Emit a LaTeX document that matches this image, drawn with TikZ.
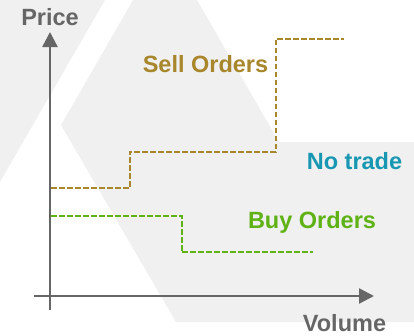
\documentclass[tikz,border=0pt]{standalone}
\usepackage{fontspec}
\setmainfont{Liberation Sans}
\usetikzlibrary{arrows.meta}
\definecolor{bggray}{HTML}{F0F0F0}
\definecolor{axisgray}{HTML}{666666}
\definecolor{sellgold}{HTML}{A8862B}
\definecolor{notrade}{HTML}{1797B1}
\definecolor{buygreen}{HTML}{5EB214}
\tikzset{
  lbl/.style={anchor=base, inner sep=0pt, font=\fontsize{23.5bp}{28bp}\selectfont\bfseries},
  axisline/.style={draw=axisgray, line width=2.4bp, -{Triangle[length=15bp,width=15bp]}},
  orderline/.style={line width=2bp, dash pattern=on 5.5bp off 2.5bp},
}
\begin{document}
\begin{tikzpicture}[x=1bp,y=-1bp]
\useasboundingbox (0,0) rectangle (414,336);
% background watermark
\fill[bggray] (0,0) -- (105,0) -- (0,182) -- cycle;
\fill[bggray] (133,0) -- (197,0) -- (279,142) -- (414,142) -- (414,322) -- (176,322) -- (61,125) -- cycle;
% axes
\coordinate (ybot) at (50,310);
\coordinate (ytop) at (50,32);
\coordinate (xleft) at (34,296);
\coordinate (xright) at (374,296);
\draw[axisline] (ybot) -- (ytop);
\draw[axisline] (xleft) -- (xright);
% sell orders
\coordinate (s0) at (51,188.3);
\coordinate (s1) at (129.5,188.3);
\coordinate (s2) at (129.5,151.7);
\coordinate (s3) at (275.7,151.7);
\coordinate (s4) at (275.7,38.5);
\coordinate (s5) at (343.5,38.5);
\draw[orderline, draw=sellgold] (s0) -- (s1) -- (s2) -- (s3) -- (s4) -- (s5);
% buy orders
\coordinate (b0) at (51,215.7);
\coordinate (b1) at (181.7,215.7);
\coordinate (b2) at (181.7,252.3);
\coordinate (b3) at (313,252.3);
\draw[orderline, draw=buygreen] (b0) -- (b1) -- (b2) -- (b3);
% labels
\node[lbl, text=axisgray] (price) at (50,25) {Price};
\node[lbl, text=axisgray] (volume) at (344.5,331.5) {Volume};
\node[lbl, text=sellgold] (sell) at (205.5,72) {Sell Orders};
\node[lbl, text=notrade] (nt) at (354.5,169) {No trade};
\node[lbl, text=buygreen] (buy) at (312,228.7) {Buy Orders};
\end{tikzpicture}
\end{document}
